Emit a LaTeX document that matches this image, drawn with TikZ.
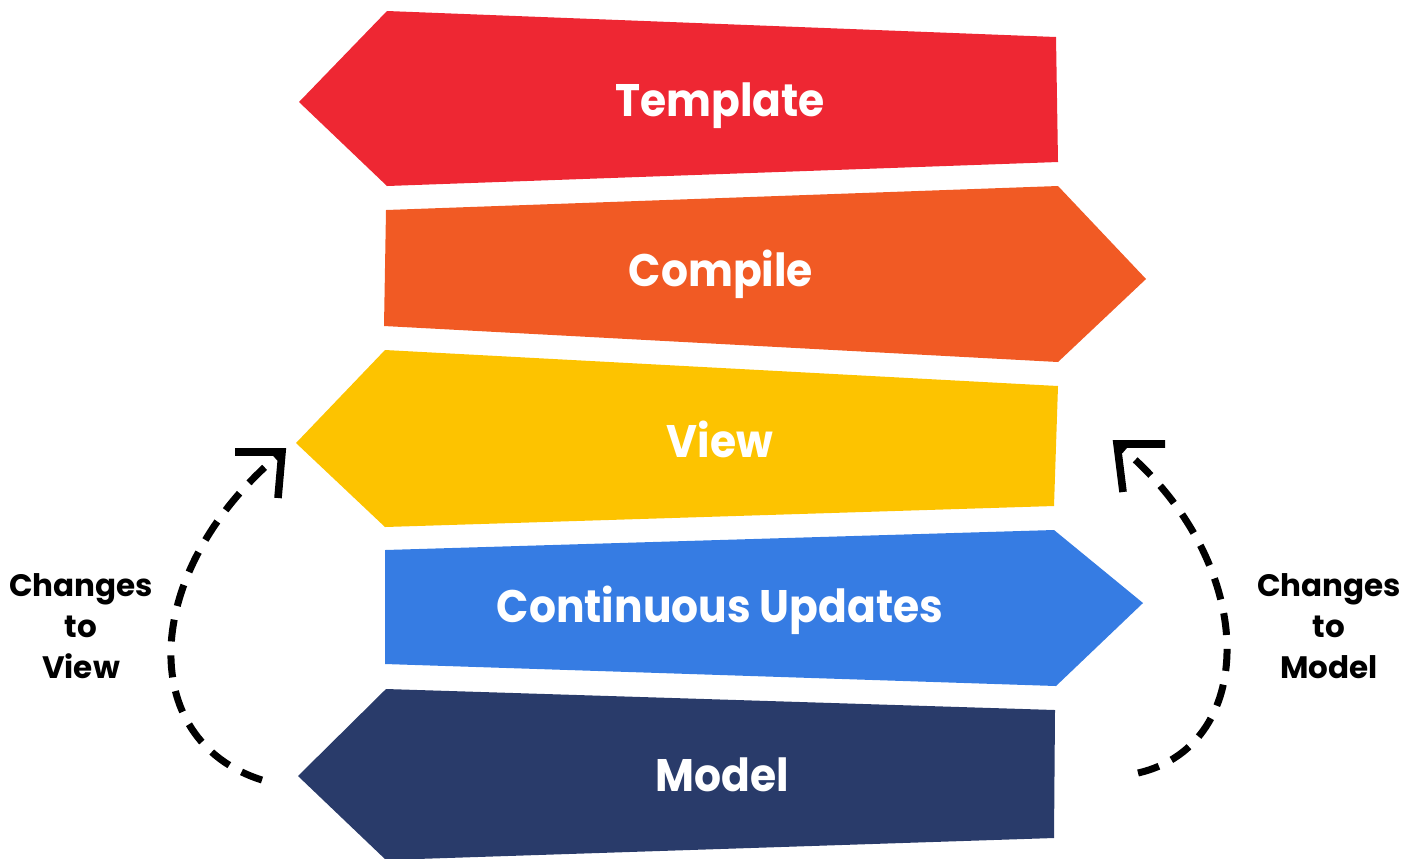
\documentclass[tikz,border=0pt]{standalone}
\usepackage{fontspec}
\setmainfont{Poppins}
\definecolor{cRed}{HTML}{EE2733}
\definecolor{cOrange}{HTML}{F15A24}
\definecolor{cYellow}{HTML}{FDC300}
\definecolor{cBlue}{HTML}{367CE3}
\definecolor{cNavy}{HTML}{293B6A}
\newcommand{\narrowtxt}[1]{\scalebox{0.93}[1]{#1}}
\begin{document}
\begin{tikzpicture}[x=0.5pt,y=-0.5pt,
  lbl/.style={text=white,font=\bfseries\fontsize{22.8}{27}\selectfont,inner sep=0pt,anchor=base},
  side/.style={text=black,font=\bfseries\fontsize{15.5}{20.5}\selectfont,align=center,inner sep=0pt},
  flow/.style={line width=3.5pt,dash pattern=on 11pt off 7pt},
  tipline/.style={line width=3.8pt,miter limit=10}]
\useasboundingbox (0,0) rectangle (1416,858);
% bands
\fill[cRed] (299,102) -- (387,11) -- (1056,37) -- (1058,162) -- (387,186) -- cycle;
\fill[cOrange] (386,210) -- (1058,186) -- (1146,279) -- (1058,362) -- (384,326) -- cycle;
\fill[cYellow] (296,443) -- (385,350) -- (1058,386) -- (1054,506) -- (385,527) -- cycle;
\fill[cBlue] (385,550) -- (1054,530) -- (1143,603) -- (1056,686) -- (385,664) -- cycle;
\fill[cNavy] (298,776) -- (386,689) -- (1055,710) -- (1054,838) -- (386,860) -- cycle;
% labels
\node[lbl] (template) at (720,116) {\narrowtxt{Template}};
\node[lbl] (compile) at (721,286) {\narrowtxt{Compile}};
\node[lbl] (view) at (720,457) {\narrowtxt{View}};
\node[lbl] (updates) at (720,622) {\narrowtxt{Continuous Updates}};
\node[lbl] (model) at (722,791) {\narrowtxt{Model}};
\node[side] (cview) at (81,626) {Changes\\to\\View};
\node[side] (cmodel) at (1329,626) {Changes\\to\\Model};
% connectors
\coordinate (lstart) at (262,780);
\coordinate (lend) at (282,452);
\coordinate (rstart) at (1138,773);
\coordinate (rend) at (1117,444);
\draw[flow] (lstart) .. controls (135,740) and (140,570) .. (lend);
\draw[tipline] (lend) ++(-47,0) -- (lend) -- ++(-4,46);
\draw[flow] (rstart) .. controls (1260,745) and (1260,560) .. (rend);
\draw[tipline] (rend) ++(48,0) -- (rend) -- ++(6,48);
\end{tikzpicture}
\end{document}
